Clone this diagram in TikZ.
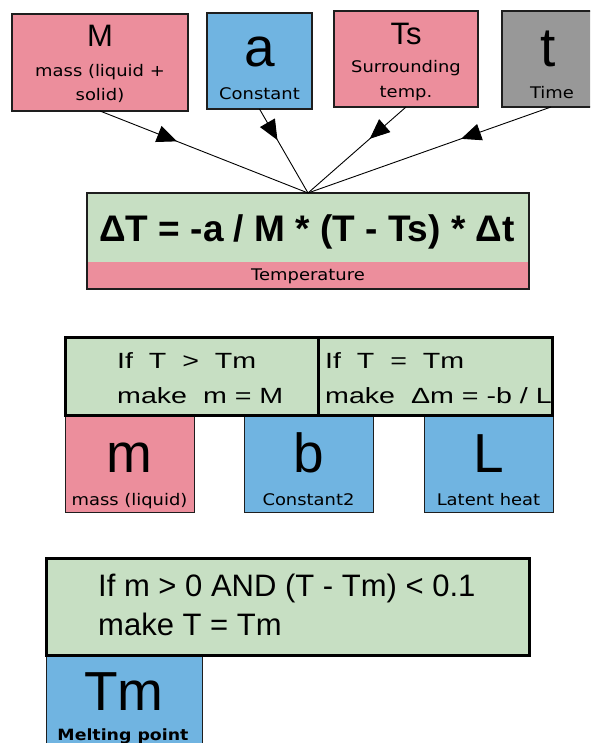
\documentclass[tikz,border=0pt]{standalone}
\usepackage{fontspec}
\setmainfont{Liberation Sans}
\newfontfamily\labfont[FakeStretch=1.12]{DejaVu Sans}
\newfontfamily\condfont[FakeStretch=1.3]{Liberation Sans}
\usetikzlibrary{arrows.meta,decorations.markings}
\definecolor{pinkc}{RGB}{236,142,156}
\definecolor{bluec}{RGB}{112,180,225}
\definecolor{greenc}{RGB}{199,223,195}
\definecolor{grayc}{RGB}{152,152,152}
\definecolor{edgec}{RGB}{30,30,30}
\tikzset{
  box/.style={draw=edgec, line width=1.3pt, inner sep=0pt, outer sep=0pt},
  thickbox/.style={draw=black, line width=3pt, fill=greenc, inner sep=0pt, outer sep=0pt},
  bigtxt/.style={anchor=base, inner sep=0pt, font=\fontsize{55}{55}\selectfont},
  medtxt/.style={anchor=base, inner sep=0pt, font=\fontsize{31}{31}\selectfont},
  lbl/.style={anchor=base, inner sep=0pt, font=\labfont\fontsize{16}{16}\selectfont},
  condtxt/.style={anchor=base west, inner sep=0pt, font=\condfont\fontsize{22}{22}\selectfont},
  bottxt/.style={anchor=base west, inner sep=0pt, font=\fontsize{31}{31}\selectfont},
  link/.style={line width=0.9pt, draw=black, postaction={decorate},
    decoration={markings, mark=at position 0.37 with {\arrow{Triangle[length=20pt,width=17pt]}}}},
}
\begin{document}
\begin{tikzpicture}[x=1pt,y=-1pt]
\clip (0,0) rectangle (590,743);
\fill[white] (0,0) rectangle (590,743);

% top boxes
\node[box, fill=pinkc, minimum width=176pt, minimum height=97pt] (M) at (100,62.5) {};
\node[box, fill=bluec, minimum width=105pt, minimum height=96pt] (a) at (259.5,61) {};
\node[box, fill=pinkc, minimum width=144pt, minimum height=96pt] (Ts) at (406,59) {};
\node[box, fill=grayc, minimum width=98pt, minimum height=96pt] (t) at (551,59) {};

\node[medtxt] (Mt) at (100,47) {M};
\node[lbl] (Ml1) at (100,77) {mass (liquid +};
\node[lbl] (Ml2) at (100,101) {solid)};
\node[bigtxt] (at) at (259.5,67) {a};
\node[lbl] (al) at (259.5,100) {Constant};
\node[medtxt] (Tst) at (406,45) {Ts};
\node[lbl] (Tsl1) at (406,73) {Surrounding};
\node[lbl] (Tsl2) at (406,98) {temp.};
\node[bigtxt] (tt) at (548,67) {t};
\node[lbl] (tl) at (552,99) {Time};

% equation box
\node[box, line width=2pt, fill=greenc, minimum width=442pt, minimum height=96pt] (eq) at (308,241) {};
\fill[pinkc] (87,262) rectangle (529,289);
\draw[edgec, line width=2pt] (eq.south west) rectangle (eq.north east);
\node[anchor=base, inner sep=0pt, font=\bfseries\fontsize{37}{37}\selectfont] (eqt) at (307,241) {ΔT = -a / M * (T - Ts) * Δt};
\node[lbl] (eql) at (308,280) {Temperature};

% connectors
\draw[link] (M.south) -- (eq.north);
\draw[link] (a.south) -- (eq.north);
\draw[link] (Ts.south) -- (eq.north);
\draw[link] (t.south) -- (eq.north);

% middle section
\node[box, line width=1pt, fill=pinkc, minimum width=129pt, minimum height=97pt] (m) at (129.5,463.5) {};
\node[box, line width=1pt, fill=bluec, minimum width=129pt, minimum height=97pt] (b) at (308.5,463.5) {};
\node[box, line width=1pt, fill=bluec, minimum width=129pt, minimum height=97pt] (L) at (488.5,463.5) {};
\node[thickbox, minimum width=253pt, minimum height=78pt] (c1) at (191.5,376) {};
\node[thickbox, minimum width=234pt, minimum height=78pt] (c2) at (435,376) {};

\node[condtxt] (c1a) at (117,368) {If\ \ T\ \ >\ \ Tm};
\node[condtxt] (c1b) at (117,403) {make\ \ m = M};
\node[condtxt] (c2a) at (325,368) {If\ \ T\ \ =\ \ Tm};
\node[condtxt] (c2b) at (325,403) {make\ \ Δm = -b / L};

\node[bigtxt] (mt) at (129.5,472) {m};
\node[lbl] (ml) at (129.5,505) {mass (liquid)};
\node[bigtxt] (bt) at (308.5,472) {b};
\node[lbl] (bl) at (308.5,505) {Constant2};
\node[bigtxt] (Lt) at (488.5,472) {L};
\node[lbl] (Ll) at (488.5,505) {Latent heat};

% bottom section
\node[box, line width=1pt, fill=bluec, minimum width=156pt, minimum height=104pt] (Tm) at (124,707) {};
\node[thickbox, minimum width=483pt, minimum height=97pt] (c3) at (287.5,606.5) {};
\node[bottxt] (c3a) at (98,596) {If m > 0 AND (T - Tm) < 0.1};
\node[bottxt] (c3b) at (98,635) {make T = Tm};
\node[bigtxt] (Tmt) at (124,710) {Tm};
\node[anchor=base, inner sep=0pt, font=\labfont\bfseries\fontsize{15.5}{15.5}\selectfont] (Tml) at (123,740) {Melting point};
\end{tikzpicture}
\end{document}
